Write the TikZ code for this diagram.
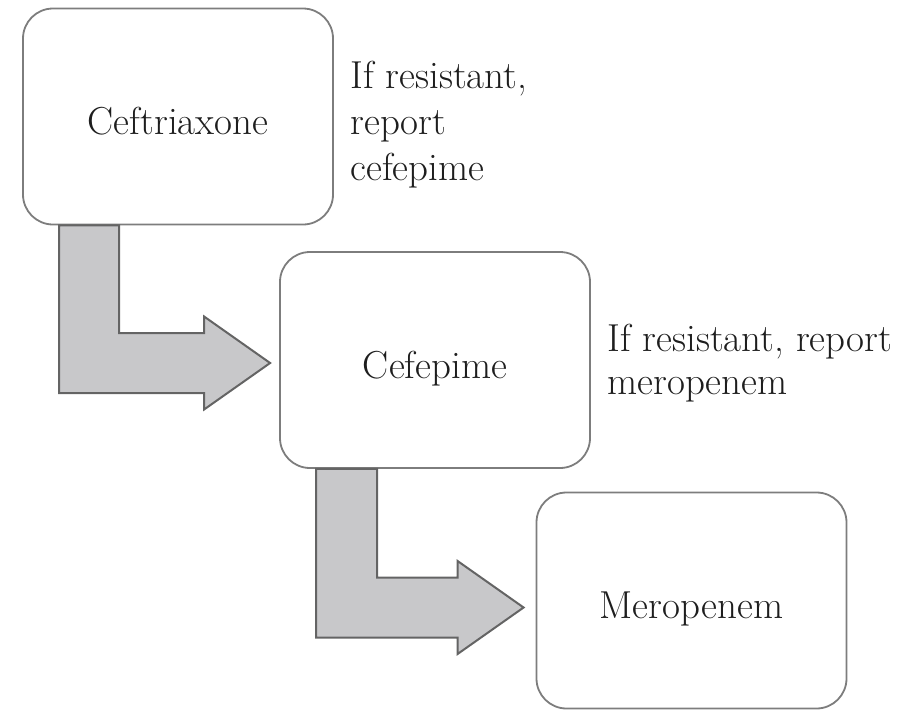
\documentclass[tikz,border=0pt]{standalone}
\usepackage{fontspec}
\usetikzlibrary{positioning}

\definecolor{boxline}{RGB}{125,125,125}
\definecolor{arrowfill}{RGB}{200,200,202}
\definecolor{arrowline}{RGB}{100,100,100}
\definecolor{textcol}{RGB}{30,30,30}

\begin{document}
\begin{tikzpicture}[x=0.5pt,y=-0.5pt,font=\fontsize{19.5}{23}\selectfont,
    drug/.style={draw=boxline,line width=0.9pt,rounded corners=15pt,
                 minimum width=155pt,minimum height=108pt,text=textcol,
                 text height=18pt,text depth=0pt},
    note/.style={align=left,inner sep=0pt,text=textcol,anchor=base west},
    bentarrow/.style={draw=arrowline,fill=arrowfill,line width=1pt}]
  \useasboundingbox (0,0) rectangle (907,709);

  \node[drug] (ceft) at (178,116.5) {Ceftriaxone};
  \node[drug] (cefe) at (435,360) {Cefepime};
  \node[drug] (mero) at (691.5,600.5) {Meropenem};

  % base of a multi-line note is its last line
  \node[note] (note1) at (350,180) {If resistant,\\report\\cefepime};
  \node[note,font=\fontsize{19.5}{21.5}\selectfont] (note2) at (607,394)
       {If resistant, report\\meropenem};

  % bent block arrows
  \coordinate (s1) at ([xshift=18.5pt]ceft.south west);
  \coordinate (t1) at ([shift={(-9,3)}]cefe.west);
  \coordinate (s2) at ([xshift=18.5pt]cefe.south west);
  \coordinate (t2) at ([shift={(-12,7)}]mero.west);
  \draw[bentarrow] ([yshift=-15pt]s1 |- t1) -- (s1) -- ++(60,0)
       |- ([shift={(-66,-30)}]t1) -- ++(0,-16.5) -- (t1)
       -- ++(-66,46.5) -- ++(0,-16.5) -- cycle;
  \draw[bentarrow] ([yshift=-15pt]s2 |- t2) -- (s2) -- ++(61,0)
       |- ([shift={(-66,-30)}]t2) -- ++(0,-16.5) -- (t2)
       -- ++(-66,46.5) -- ++(0,-16.5) -- cycle;
\end{tikzpicture}
\end{document}
